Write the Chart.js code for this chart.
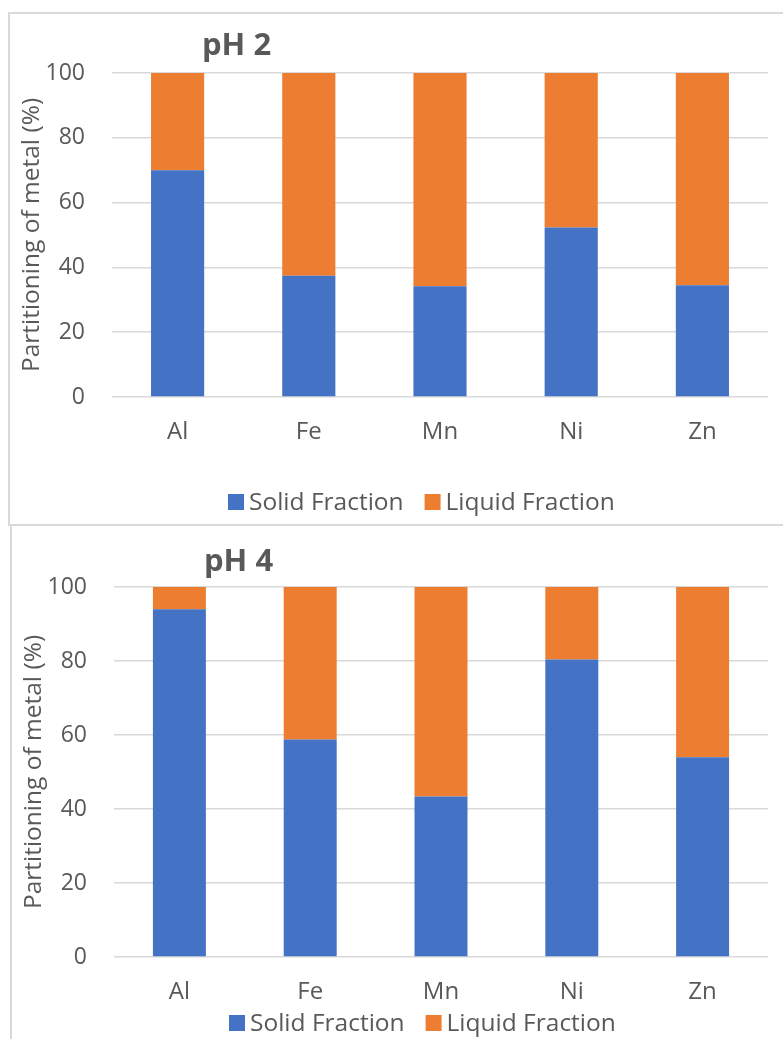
<!DOCTYPE html>
<html>
<head>
<meta charset="utf-8">
<title>Partitioning of metals at pH 2 and pH 4</title>
<script src="https://cdn.jsdelivr.net/npm/chart.js@4/dist/chart.umd.min.js"></script>
<style>
  html, body { margin: 0; padding: 0; background: #fff; width: 783px; height: 1039px; overflow: hidden; position: relative; }
  .frame { position: absolute; box-sizing: border-box; border: 0 solid #d9d9d9; }
  #frameTop { left: 8px; top: 12px; width: 800px; height: 514px; border-width: 2px 0 2px 2px; }
  #frameBottom { left: 10px; top: 526px; width: 800px; height: 600px; border-left-width: 2px; }
  canvas { position: absolute; left: 0; }
  #chartPH2 { top: 0; }
  #chartPH4 { top: 522px; }
</style>
</head>
<body>
<div class="frame" id="frameTop"></div>
<div class="frame" id="frameBottom"></div>
<canvas id="chartPH2" width="783" height="522"></canvas>
<canvas id="chartPH4" width="783" height="517"></canvas>
<script>
// Metals and their solid / liquid partitioning (%)
const metals = ['Al', 'Fe', 'Mn', 'Ni', 'Zn'];
const solidPH2 = [70, 37.4, 34.2, 52.3, 34.5];
const liquidPH2 = [30, 62.6, 65.8, 47.7, 65.5];
const solidPH4 = [94, 58.8, 43.4, 80.4, 54];
const liquidPH4 = [6, 41.2, 56.6, 19.6, 46];
const yTicks = [0, 20, 40, 60, 80, 100];
const seriesNames = ['Solid Fraction', 'Liquid Fraction'];

const BLUE = '#4472C4';
const ORANGE = '#ED7D31';
const TEXT = '#595959';
const GRID = '#d9d9d9';
const FAMILY = '"Open Sans", "Noto Sans", sans-serif';

Chart.defaults.font.family = FAMILY;
Chart.defaults.color = TEXT;

// Panel heading and legend drawn onto the chart canvas
const panelText = {
  id: 'panelText',
  afterDraw(chart, args, opts) {
    const ctx = chart.ctx;
    ctx.save();
    ctx.textAlign = 'left';
    ctx.textBaseline = 'alphabetic';
    ctx.fillStyle = TEXT;
    ctx.font = `bold ${opts.titleSize}px ${FAMILY}`;
    ctx.fillText(opts.title, opts.titleX, opts.titleY);

    ctx.font = `${opts.legendSize}px ${FAMILY}`;
    let x = opts.legendX;
    const box = opts.box;
    chart.data.datasets.forEach(ds => {
      ctx.fillStyle = ds.backgroundColor;
      ctx.fillRect(x, opts.legendY - box, box, box);
      ctx.fillStyle = TEXT;
      ctx.fillText(ds.label, x + box + 5, opts.legendY);
      x += box + 5 + ctx.measureText(ds.label).width + 21;
    });
    ctx.restore();
  }
};

function buildChart(canvasId, solid, liquid, geo) {
  return new Chart(document.getElementById(canvasId), {
    type: 'bar',
    data: {
      labels: metals,
      datasets: [
        { label: seriesNames[0], data: solid, backgroundColor: BLUE, borderWidth: 0 },
        { label: seriesNames[1], data: liquid, backgroundColor: ORANGE, borderWidth: 0 }
      ]
    },
    plugins: [panelText],
    options: {
      responsive: false,
      animation: false,
      events: [],
      categoryPercentage: 0.405,
      barPercentage: 1,
      layout: { padding: { left: geo.padLeft, right: 15, top: geo.padTop, bottom: geo.padBottom } },
      plugins: {
        legend: { display: false },
        tooltip: { enabled: false },
        title: { display: false },
        panelText: {
          title: geo.title, titleX: geo.titleX, titleY: geo.titleY, titleSize: 31,
          legendX: geo.legendX, legendY: geo.legendY, legendSize: 24.5, box: 16
        }
      },
      scales: {
        x: {
          stacked: true,
          grid: { display: false, drawTicks: false },
          border: { display: false },
          ticks: { padding: 21, font: { size: 24 }, color: TEXT },
          afterFit(scale) { scale.height = 60; }
        },
        y: {
          stacked: true,
          min: 0,
          max: 100,
          afterBuildTicks(scale) { scale.ticks = yTicks.map(v => ({ value: v })); },
          grid: { color: GRID, lineWidth: 1.5, drawTicks: false },
          border: { display: false },
          ticks: { padding: 27, font: { size: 23 }, color: TEXT },
          title: {
            display: true,
            text: 'Partitioning of metal (%)',
            font: { size: 24.5 },
            color: TEXT,
            padding: { top: 7.4, bottom: 0 }
          },
          afterFit(scale) { scale.width = 102; }
        }
      }
    }
  });
}

buildChart('chartPH2', solidPH2, liquidPH2, {
  padLeft: 10, padTop: 73, padBottom: 65,
  title: 'pH 2', titleX: 202, titleY: 55,
  legendX: 228, legendY: 510
});

buildChart('chartPH4', solidPH4, liquidPH4, {
  padLeft: 12, padTop: 65, padBottom: 22,
  title: 'pH 4', titleX: 204, titleY: 49,
  legendX: 229, legendY: 509
});
</script>
</body>
</html>
